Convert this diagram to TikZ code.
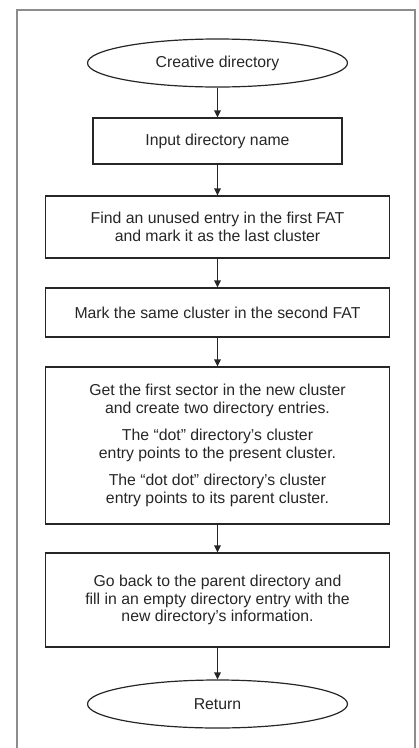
\documentclass[tikz,border=0pt]{standalone}
\usepackage{fontspec}
\setmainfont{Liberation Sans}
\usetikzlibrary{shapes.geometric,arrows.meta}
\definecolor{frameg}{HTML}{8C8C8C}
\definecolor{ink}{HTML}{262626}
\tikzset{
  boxstyle/.style={draw=ink, line width=1.2pt, rectangle, inner sep=0pt, align=center, text=ink,
    font=\fontsize{15.8pt}{17.5pt}\selectfont},
  ovalstyle/.style={draw=ink, line width=1.2pt, ellipse, inner sep=0pt, text=ink,
    minimum width=260pt, minimum height=48pt, font=\fontsize{15.8pt}{17.5pt}\selectfont},
  arr/.style={draw=ink, line width=1.2pt, -{Triangle[length=7pt,width=6.5pt]}},
  framestyle/.style={draw=frameg, line width=2pt}
}
\begin{document}
\begin{tikzpicture}[x=1pt,y=-1pt]
\useasboundingbox (0,0) rectangle (419,748);
\draw[framestyle] (17,748) -- (17,10) -- (415,10) -- (415,748);

\node[ovalstyle] (e1) at (217.5,63) {Creative directory};
\node[boxstyle, minimum width=249pt, minimum height=46pt] (b1) at (217.5,141) {Input directory name};
\node[boxstyle, minimum width=343.5pt, minimum height=62pt] (b2) at (217.5,227) {Find an unused entry in the first FAT\\and mark it as the last cluster};
\node[boxstyle, minimum width=343.5pt, minimum height=49pt] (b3) at (217.5,312.5) {Mark the same cluster in the second FAT};
\node[boxstyle, minimum width=343.5pt, minimum height=157pt] (b4) at (217.5,445.5) {Get the first sector in the new cluster\\and create two directory entries.\\[10pt]The “dot” directory’s cluster\\entry points to the present cluster.\\[10pt]The “dot dot” directory’s cluster\\entry points to its parent cluster.};
\node[boxstyle, minimum width=343.5pt, minimum height=94pt] (b5) at (217.5,600) {Go back to the parent directory and\\fill in an empty directory entry with the\\new directory’s information.};
\node[ovalstyle] (e2) at (217.5,704) {Return};

\draw[arr] (e1.south) -- (b1.north);
\draw[arr] (b1.south) -- (b2.north);
\draw[arr] (b2.south) -- (b3.north);
\draw[arr] (b3.south) -- (b4.north);
\draw[arr] (b4.south) -- (b5.north);
\draw[arr] (b5.south) -- (e2.north);
\end{tikzpicture}
\end{document}
